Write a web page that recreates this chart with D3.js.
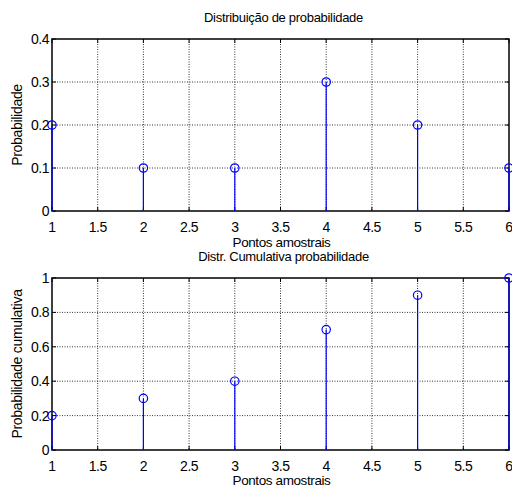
<!DOCTYPE html>
<html>
<head>
<meta charset="utf-8">
<script src="https://cdn.jsdelivr.net/npm/d3@7"></script>
<style>
  body { margin: 0; background: #fff; }
  svg { font-family: Arial, "Liberation Sans", sans-serif; }
  .grid line { stroke: #000; stroke-width: 0.8; stroke-dasharray: 1,1.5; }
</style>
</head>
<body>
<div id="content"></div>
<script>
// sample points and the two series
var pontos = [1, 2, 3, 4, 5, 6];
var probabilidade = [0.2, 0.1, 0.1, 0.3, 0.2, 0.1];
var cumulativa = [0.2, 0.3, 0.4, 0.7, 0.9, 1.0];

var xTicks = [1, 1.5, 2, 2.5, 3, 3.5, 4, 4.5, 5, 5.5, 6];
var yTicksTop = [0, 0.1, 0.2, 0.3, 0.4];
var yTicksBottom = [0, 0.2, 0.4, 0.6, 0.8, 1];

var width = 512, height = 489;
var svg = d3.select('#content').append('svg')
  .attr('width', width)
  .attr('height', height);

var left = 52, right = 509;

function drawPanel(opts) {
  var x = d3.scaleLinear().domain([1, 6]).range([left, right]);
  var y = d3.scaleLinear().domain(opts.yDomain).range([opts.bottom, opts.top]);
  var g = svg.append('g');

  // dotted grid
  var grid = g.append('g').attr('class', 'grid');
  grid.selectAll('.gx').data(xTicks.slice(1, -1)).enter().append('line')
    .attr('x1', d => x(d)).attr('x2', d => x(d))
    .attr('y1', opts.top).attr('y2', opts.bottom);
  grid.selectAll('.gy').data(opts.yTicks.slice(1, -1)).enter().append('line')
    .attr('x1', left).attr('x2', right)
    .attr('y1', d => y(d)).attr('y2', d => y(d));

  // inward ticks on all four sides
  var tk = 4;
  var ticks = g.append('g').attr('stroke', '#000').attr('stroke-width', 1);
  xTicks.forEach(function(t) {
    ticks.append('line').attr('x1', x(t)).attr('x2', x(t)).attr('y1', opts.bottom).attr('y2', opts.bottom - tk);
    ticks.append('line').attr('x1', x(t)).attr('x2', x(t)).attr('y1', opts.top).attr('y2', opts.top + tk);
  });
  opts.yTicks.forEach(function(t) {
    ticks.append('line').attr('x1', left).attr('x2', left + tk).attr('y1', y(t)).attr('y2', y(t));
    ticks.append('line').attr('x1', right).attr('x2', right - tk).attr('y1', y(t)).attr('y2', y(t));
  });

  // box
  g.append('rect')
    .attr('x', left).attr('y', opts.top)
    .attr('width', right - left).attr('height', opts.bottom - opts.top)
    .attr('fill', 'none').attr('stroke', '#000').attr('stroke-width', 1.5);

  // stems
  g.selectAll('.stem').data(opts.values).enter().append('line')
    .attr('x1', (d, i) => x(pontos[i])).attr('x2', (d, i) => x(pontos[i]))
    .attr('y1', y(0)).attr('y2', d => y(d))
    .attr('stroke', '#0000ff').attr('stroke-width', 1.2);
  g.selectAll('.mark').data(opts.values).enter().append('circle')
    .attr('cx', (d, i) => x(pontos[i])).attr('cy', d => y(d))
    .attr('r', 4.2)
    .attr('fill', 'none').attr('stroke', '#0000ff').attr('stroke-width', 1.2);

  // tick labels
  g.selectAll('.xl').data(xTicks).enter().append('text')
    .attr('x', d => x(d)).attr('y', opts.bottom + 21)
    .attr('text-anchor', 'middle').attr('font-size', 14)
    .attr('letter-spacing', -0.5)
    .text(d => d);
  g.selectAll('.yl').data(opts.yTicks).enter().append('text')
    .attr('x', left - 3).attr('y', d => y(d) + 5)
    .attr('text-anchor', 'end').attr('font-size', 14)
    .attr('letter-spacing', -0.5)
    .text(d => d);

  // titles and labels
  g.append('text').attr('x', (left + right) / 2 + 3).attr('y', opts.top - 17)
    .attr('text-anchor', 'middle').attr('font-size', 13).attr('letter-spacing', -0.3)
    .text(opts.title);
  g.append('text').attr('x', (left + right) / 2 + 1).attr('y', opts.xlabelY)
    .attr('text-anchor', 'middle').attr('font-size', 13.5).attr('letter-spacing', -0.4)
    .text('Pontos amostrais');
  g.append('text')
    .attr('transform', 'translate(22,' + ((opts.top + opts.bottom) / 2) + ') rotate(-90)')
    .attr('text-anchor', 'middle').attr('font-size', 14).attr('letter-spacing', -0.3)
    .text(opts.ylabel);
}

drawPanel({
  top: 39, bottom: 211, yDomain: [0, 0.4], yTicks: yTicksTop, xlabelY: 247,
  values: probabilidade, title: 'Distribuição de probabilidade', ylabel: 'Probabilidade'
});
drawPanel({
  top: 278, bottom: 450, yDomain: [0, 1], yTicks: yTicksBottom, xlabelY: 485,
  values: cumulativa, title: 'Distr. Cumulativa probabilidade', ylabel: 'Probabilidade cumulativa'
});
</script>
</body>
</html>
